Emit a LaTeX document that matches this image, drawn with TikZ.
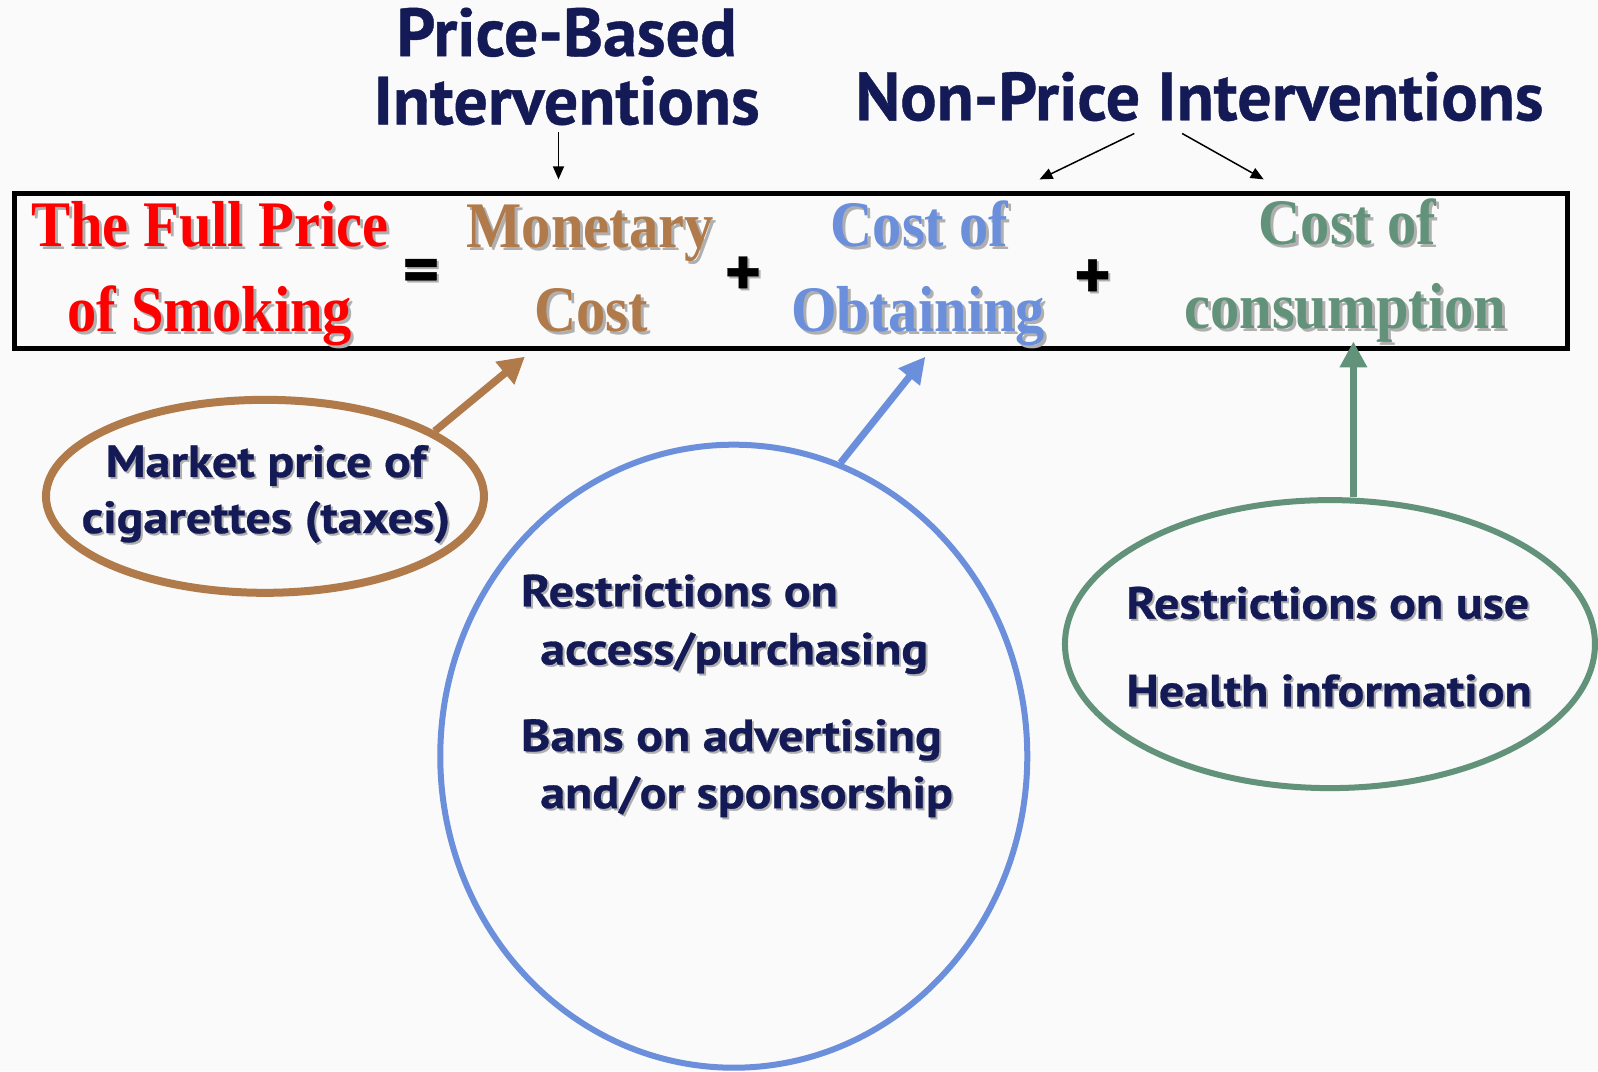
\documentclass[tikz,border=0pt]{standalone}
\usepackage{fontspec}
\usetikzlibrary{arrows.meta,shapes.geometric,fit}
\setmainfont{Liberation Serif}
\newfontfamily\costserif[FakeStretch=0.9]{Liberation Serif Bold}
\newfontfamily\navysans[FakeBold=0.6]{PT Sans Bold}
\newfontfamily\bubblesans[FakeStretch=1.11,FakeBold=0.6]{PT Sans Bold}
\definecolor{navy}{RGB}{20,26,85}
\definecolor{shadowc}{RGB}{175,175,175}
\definecolor{costbrown}{RGB}{176,122,74}
\definecolor{costblue}{RGB}{107,143,219}
\definecolor{costgreen}{RGB}{98,146,121}
\definecolor{costred}{RGB}{255,0,0}
\definecolor{paper}{RGB}{250,250,250}
% text with a soft grey drop shadow
\newcommand\shd[2][3]{\makebox[0pt][l]{\kern#1pt\raisebox{-#1pt}{\textcolor{shadowc}{#2}}}#2}
\tikzset{
  heading/.style={font=\navysans\fontsize{68}{70}\selectfont, text=navy, inner sep=0, align=center},
  costtext/.style={font=\costserif\fontsize{65}{84}\selectfont, inner sep=0, align=center},
  bubbletext/.style={font=\bubblesans\fontsize{45}{57}\selectfont, text=navy, inner sep=0},
  opsign/.style={font=\navysans\fontsize{70}{70}\selectfont, inner sep=0},
  thinarrow/.style={line width=1.5pt, -{Triangle[length=13pt,width=11pt]}},
  bubble/.style={ellipse, draw, inner sep=0},
}
\begin{document}
\begin{tikzpicture}[x=1.0191pt,y=-1.0191pt]
\fill[paper] (0,0) rectangle (1568,1051);
\useasboundingbox (0,0) rectangle (1568,1051);

% headings
\node[heading, anchor=base] (pbtop) at (556,55) {Price-Based};
\node[heading, anchor=base] (pbbottom) at (556,122) {Interventions};
\node[heading, anchor=base] (nonprice) at (1177,118) {Non-Price Interventions};

% the equation box
\node[draw, line width=5pt, fit={(14,190) (1538,342)}, inner sep=0] (pricebox) {};

\node[costtext, text=costred, anchor=base] (full1) at (206,242) {\shd{The Full Price}};
\node[costtext, text=costred, anchor=base] (full2) at (206,325) {\shd{of Smoking}};
\node[opsign, anchor=center] (eq) at (413,272) {\shd[2]{=}};
\node[costtext, text=costbrown, anchor=base] (mon1) at (579,243) {\shd{Monetary}};
\node[costtext, text=costbrown, anchor=base] (mon2) at (580,325) {\shd{Cost}};
\node[opsign, anchor=center] (plusa) at (729,272) {\shd[2]{+}};
\node[costtext, text=costblue, anchor=base] (obt1) at (902,242) {\shd{Cost of}};
\node[costtext, text=costblue, anchor=base] (obt2) at (901,325) {\shd{Obtaining}};
\node[opsign, anchor=center] (plusb) at (1072,275) {\shd[2]{+}};
\node[costtext, text=costgreen, anchor=base] (con1) at (1322,240) {\shd{Cost of}};
\node[costtext, text=costgreen, anchor=base] (con2) at (1320,322) {\shd{consumption}};

% arrows from the headings
\coordinate (pbtip) at (548,176);
\draw[thinarrow] (548,130) -- (pbtip);
\coordinate (nptipl) at (1020,176);
\coordinate (nptipr) at (1240,176);
\draw[thinarrow] (1113,131) -- (nptipl);
\draw[thinarrow] (1160,131) -- (nptipr);

% market price bubble
\node[bubble, draw=costbrown, line width=8pt, minimum width=438pt, minimum height=193pt] (brownell) at (260,487) {};
\node[bubbletext, anchor=base] (mk1) at (261,468) {\shd[2]{Market price of}};
\node[bubbletext, anchor=base] (mk2) at (261,523) {\shd[2]{cigarettes (taxes)}};
\coordinate (browntip) at (515,350);
\draw[costbrown, line width=7.5pt, -{Triangle[length=26pt,width=28pt]}] (brownell.21) -- (browntip);

% obtaining bubble
\node[bubble, draw=costblue, line width=6pt, minimum width=587pt, minimum height=623pt] (bluecirc) at (720,742) {};
\node[bubbletext, anchor=base west] (ob1) at (511,595) {\shd[2]{Restrictions on}};
\node[bubbletext, anchor=base west] (ob2) at (530,652) {\shd[2]{access/purchasing}};
\node[bubbletext, anchor=base west] (ob3) at (511,737) {\shd[2]{Bans on advertising}};
\node[bubbletext, anchor=base west] (ob4) at (530,793) {\shd[2]{and/or sponsorship}};
\coordinate (bluetip) at (908,350);
\draw[costblue, line width=7pt, -{Triangle[length=26pt,width=26pt]}] (bluecirc.70) -- (bluetip);

% consumption bubble
\node[bubble, draw=costgreen, line width=6pt, minimum width=530pt, minimum height=288pt] (greenell) at (1305,632) {};
\node[bubbletext, anchor=base west] (cu1) at (1105,607) {\shd[2]{Restrictions on use}};
\node[bubbletext, anchor=base west] (cu2) at (1105,693) {\shd[2]{Health information}};
\coordinate (greentip) at (1328,335);
\draw[costgreen, line width=7pt, -{Triangle[length=26pt,width=26pt]}] (greentip |- greenell.north) -- (greentip);
\end{tikzpicture}
\end{document}
